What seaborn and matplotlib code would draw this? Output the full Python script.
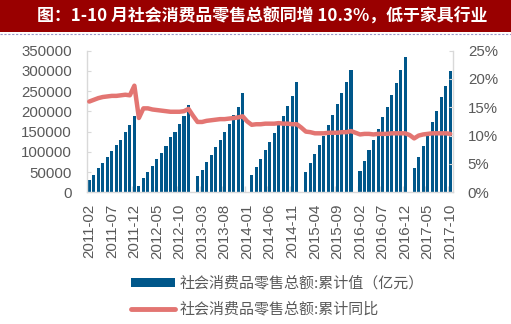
import numpy as np
import pandas as pd
import matplotlib
matplotlib.use("Agg")
import matplotlib.pyplot as plt
import seaborn as sns
from matplotlib.patches import Rectangle, Patch
from matplotlib.lines import Line2D
from matplotlib.font_manager import FontProperties

sns.set_style("white")
plt.rcParams["font.family"] = ["Liberation Sans", "Noto Sans CJK SC", "DejaVu Sans"]

nan = np.nan
# months 2011-02 .. 2017-10
months = [p.strftime("%Y-%m") for p in pd.period_range("2011-02", "2017-10", freq="M")]

# cumulative retail sales (亿元); January mostly missing
retail_2011 = [30400, 42800, 60800, 72800, 87500, 102100, 116900, 129300, 149500, 166400, 189000]
retail_2012 = [16300, 36100, 51000, 65800, 83100, 97900, 115200, 136000, 149800, 168800, 188600, 215800]
retail_2013 = [nan, 40300, 55100, 74900, 92200, 112700, 129300, 149100, 168800, 190300, 210900, 246300]
retail_2014 = [nan, 42800, 62600, 82400, 104600, 124400, 145800, 165500, 188600, 214000, 238000, 272000]
retail_2015 = [nan, 50600, 72400, 93900, 116500, 139500, 165900, 191100, 218200, 246300, 272200, 302200]
retail_2016 = [nan, 52700, 77400, 104600, 129300, 156500, 185700, 211200, 240200, 270500, 302200, 334300]
retail_2017 = [nan, 60500, 87200, 114500, 138000, 174200, 201700, 236300, 262800, 300000]

# cumulative yoy growth (%)
growth_2011 = [16.0, 16.3, 16.6, 16.8, 16.9, 17.0, 17.0, 17.1, 17.2, 17.1, 18.8]
growth_2012 = [13.1, 14.8, 14.8, 14.6, 14.5, 14.4, 14.3, 14.2, 14.2, 14.2, 14.3, 14.7]
growth_2013 = [13.5, 12.4, 12.4, 12.6, 12.7, 12.8, 12.9, 12.9, 13.0, 13.1, 13.2, 13.4]
growth_2014 = [12.5, 11.9, 12.0, 12.0, 12.1, 12.1, 12.1, 12.2, 12.1, 12.1, 12.0, 12.0]
growth_2015 = [11.4, 10.7, 10.6, 10.4, 10.4, 10.4, 10.5, 10.5, 10.5, 10.6, 10.6, 10.8]
growth_2016 = [10.5, 10.2, 10.3, 10.3, 10.2, 10.3, 10.3, 10.3, 10.4, 10.4, 10.4, 10.4]
growth_2017 = [10.1, 9.5, 10.0, 10.2, 10.3, 10.4, 10.4, 10.4, 10.4, 10.3]

values = retail_2011 + retail_2012 + retail_2013 + retail_2014 + retail_2015 + retail_2016 + retail_2017
growth = growth_2011 + growth_2012 + growth_2013 + growth_2014 + growth_2015 + growth_2016 + growth_2017

title = "图：1-10 月社会消费品零售总额同增 10.3%，低于家具行业"
bar_label = "社会消费品零售总额:累计值（亿元）"
line_label = "社会消费品零售总额:累计同比"

BLUE = "#00578A"
RED = "#E37572"
GRAY = "#595959"
SPINE = "#D9D9D9"

df = pd.DataFrame({"month": months, "value": values, "growth": growth})
df["pos"] = np.arange(len(df))

W, H = 511, 324
fig = plt.figure(figsize=(W / 100, H / 100), dpi=100)

# title banner
fig.patches.append(Rectangle((0, 1 - 31.5 / H), 1, 31.5 / H, transform=fig.transFigure,
                             facecolor="#990000", edgecolor="none", zorder=0))
fig.lines.append(Line2D([0, 1], [1 - 33.5 / H] * 2, transform=fig.transFigure,
                        color="#9A9AC8", lw=0.8, ls=(0, (2, 1.5))))
fig.text(37 / W, 1 - 16.5 / H, title, color="white", fontsize=12.2, fontweight="bold",
         va="center", ha="left", family=["Noto Sans CJK SC", "DejaVu Sans"])

ax = fig.add_axes([87 / W, 1 - 192.3 / H, (452.5 - 87) / W, (192.3 - 50.5) / H])
sns.barplot(data=df, x="month", y="value", order=months, color=BLUE, saturation=1,
            width=0.68, ax=ax, errorbar=None, linewidth=0, edgecolor="none")
for p in ax.patches:
    p.set_antialiased(False)
    p.set_linewidth(0)
ax.set_xlim(-0.5, len(months) - 0.5)
ax.set_ylim(0, 350000)
ax.set_yticks(np.arange(0, 350001, 50000))
ax.set_yticklabels([f"{v:d}" for v in range(0, 350001, 50000)])
ax.set_xticks(np.arange(0, len(months), 5))
ax.set_xticklabels(months[::5], rotation=90)
ax.set_xticks(np.arange(4.5, len(months) - 1, 5), minor=True)
ax.set_xlabel("")
ax.set_ylabel("")
ax.tick_params(axis="x", which="major", length=0, pad=8, labelsize=10.8, labelcolor=GRAY)
ax.tick_params(axis="x", which="minor", direction="in", length=4, color=SPINE, width=1, bottom=True)
ax.tick_params(axis="y", direction="in", length=3, color=SPINE, pad=11, labelsize=10.8,
               labelcolor=GRAY, left=True)
for s in ["top", "right"]:
    ax.spines[s].set_visible(False)
for s in ["left", "bottom"]:
    ax.spines[s].set_color(SPINE)
    ax.spines[s].set_linewidth(1)

ax2 = ax.twinx()
sns.lineplot(data=df, x="pos", y="growth", color=RED, lw=3.2, ax=ax2,
             solid_joinstyle="round", solid_capstyle="round", legend=False)
ax2.set_xlim(-0.5, len(months) - 0.5)
ax2.set_ylim(0, 25)
ax2.set_yticks(np.arange(0, 26, 5))
ax2.set_yticklabels([f"{v}%" for v in range(0, 26, 5)])
ax2.set_ylabel("")
ax2.set_xlabel("")
ax2.tick_params(axis="y", direction="in", length=3, color=SPINE, pad=11, labelsize=10.8,
                labelcolor=GRAY, right=True)
for s in ["top", "left", "bottom"]:
    ax2.spines[s].set_visible(False)
ax2.spines["right"].set_color(SPINE)
ax2.spines["right"].set_linewidth(1)

handles = [Patch(facecolor=BLUE, edgecolor="none"),
           Line2D([], [], color=RED, lw=3.5)]
fig.legend(handles, [bar_label, line_label], loc="upper left",
           bbox_to_anchor=(131 / W, 1 - 276 / H), frameon=False,
           handlelength=2.9, handleheight=0.5, handletextpad=0.35, labelspacing=0.75,
           borderpad=0, borderaxespad=0,
           prop=FontProperties(family="Noto Sans CJK SC", size=10.8), labelcolor=GRAY)

fig.savefig("out.png", dpi=100)
